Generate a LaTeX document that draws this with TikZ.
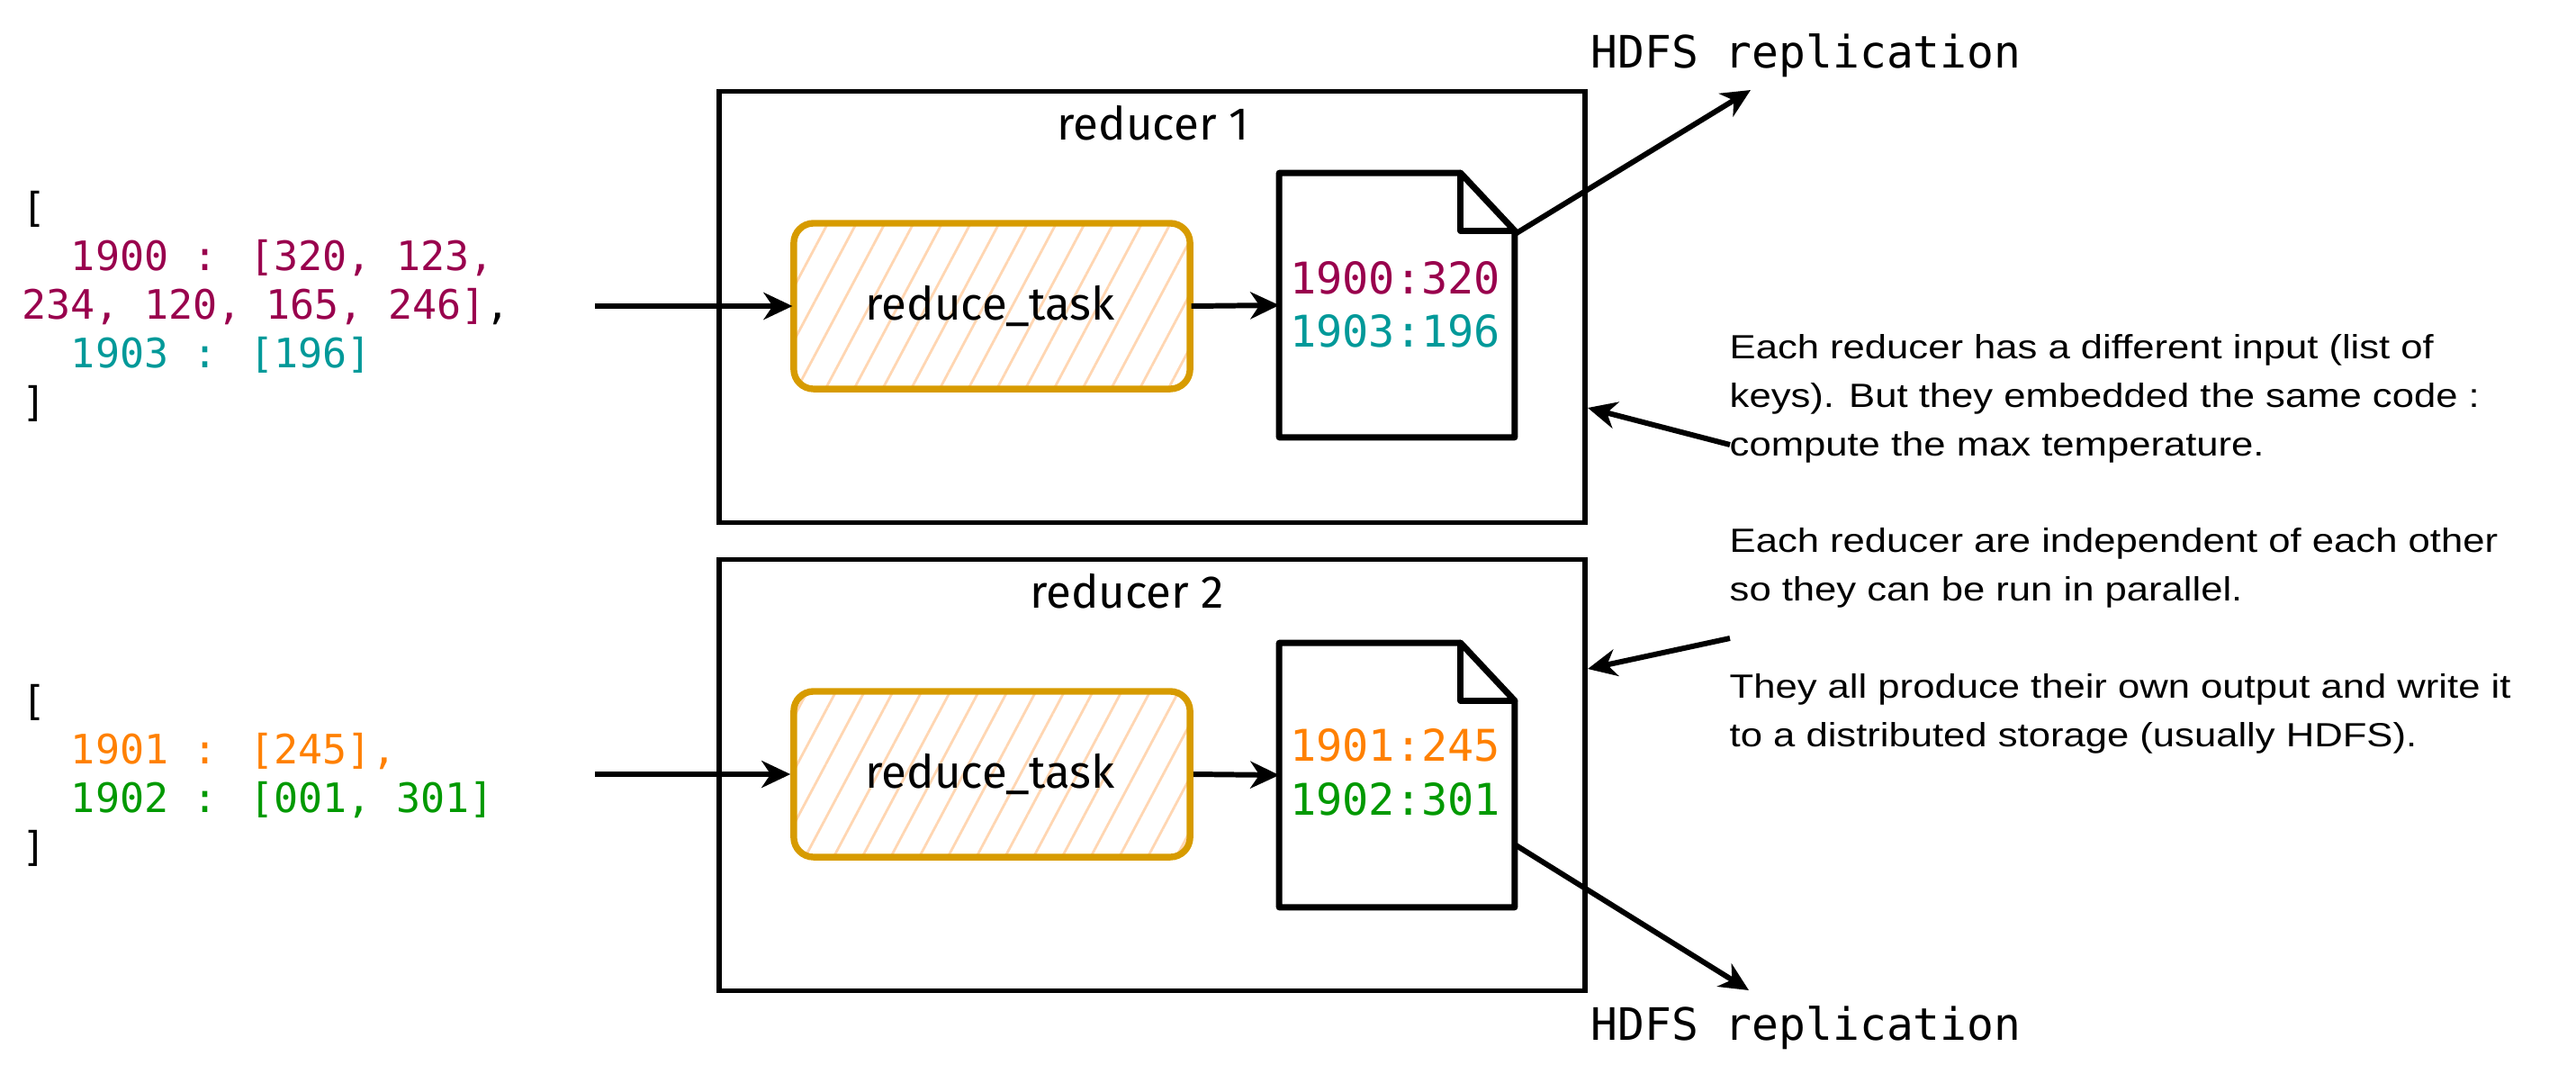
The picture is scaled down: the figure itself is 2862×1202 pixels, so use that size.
\documentclass[tikz,border=0pt]{standalone}
\usepackage{fontspec}
\usetikzlibrary{arrows.meta,patterns.meta,calc}
\newfontfamily\codefont{DejaVu Sans Mono}
\newfontfamily\notefont[FakeStretch=1.17]{Liberation Sans}
\newfontfamily\handfont{Fira Sans}
\definecolor{cmaroon}{RGB}{153,0,77}
\definecolor{cteal}{RGB}{0,153,153}
\definecolor{corange}{RGB}{255,128,0}
\definecolor{cgreen}{RGB}{0,153,0}
\definecolor{taskline}{RGB}{215,155,0}
\definecolor{taskhatch}{RGB}{255,214,178}
\begin{document}
\begin{tikzpicture}[x=0.01cm,y=-0.01cm,
  rbox/.style={draw, line width=1.6pt, minimum width=9.62cm, minimum height=4.79cm, inner sep=0},
  taskbox/.style={draw=taskline, line width=2.1pt, rounded corners=0.22cm, minimum width=4.4cm, minimum height=1.84cm, inner sep=0,
    pattern={Lines[angle=62,distance=0.28cm,line width=0.8pt]}, pattern color=taskhatch},
  hand/.style={font=\handfont\fontsize{14.5}{18}\selectfont, inner sep=0, anchor=base},
  docbox/.style={minimum width=2.6cm, minimum height=2.92cm, inner sep=0},
  docline/.style={line width=2pt, line join=round, line cap=round},
  doctext/.style={font=\codefont\fontsize{13.8}{16}\selectfont, inner sep=0, anchor=base},
  code/.style={font=\codefont\fontsize{12.8}{15.35}\selectfont, inner sep=0, align=left, anchor=north west},
  hdfs/.style={font=\codefont\fontsize{14.1}{17}\selectfont, inner sep=0, anchor=base west},
  note/.style={font=\notefont\fontsize{10.6}{15.3}\selectfont, inner sep=0, align=left, anchor=north west},
  arr/.style={line width=1.7pt, -{Stealth[length=0.32cm,width=0.3cm,inset=0.1cm]}},
]
\useasboundingbox (0,0) rectangle (2862,1202);

% reducer boxes
\node[rbox] (r1) at (1280,341) {};
\node[rbox] (r2) at (1280,861) {};
\node[hand] (r1lbl) at (1281,155) {reducer 1};
\node[hand] (r2lbl) at (1252,675) {reducer 2};

% reduce tasks
\node[taskbox] (task1) at (1102,340) {};
\node[taskbox] (task2) at (1102,860) {};
\node[hand] (task1t) at (1100,355) {reduce\_task};
\node[hand] (task2t) at (1100,875) {reduce\_task};

% documents
\node[docbox] (doc1) at (1552,339) {};
\node[docbox] (doc2) at (1552,861) {};
\foreach \d in {doc1,doc2}{
  \draw[docline, fill=white] (\d.north west) -- ($(\d.north east)+(-60,0)$) -- ($(\d.north east)+(0,64)$)
     -- (\d.south east) -- (\d.south west) -- cycle;
  \draw[docline] ($(\d.north east)+(-60,0)$) -- ($(\d.north east)+(-60,64)$) -- ($(\d.north east)+(0,64)$);
}
\node[doctext, text=cmaroon] (d1a) at (1550,326) {1900:320};
\node[doctext, text=cteal] (d1b) at (1550,385) {1903:196};
\node[doctext, text=corange] (d2a) at (1550,845) {1901:245};
\node[doctext, text=cgreen] (d2b) at (1550,905) {1902:301};

% inputs
\node[code] (in1) at (24,212) {[\\
\textcolor{cmaroon}{\hphantom{00}1900 : [320, 123,}\\
\textcolor{cmaroon}{234, 120, 165, 246]},\\
\textcolor{cteal}{\hphantom{00}1903 : [196]}\\
]};
\node[code] (in2) at (24,760) {[\\
\textcolor{corange}{\hphantom{00}1901 : [245],}\\
\textcolor{cgreen}{\hphantom{00}1902 : [001, 301]}\\
]};
\coordinate (in1s) at (661,340);
\coordinate (in2s) at (661,860);

% HDFS labels
\node[hdfs] (hdfs1) at (1767,75) {HDFS replication};
\node[hdfs] (hdfs2) at (1767,1155) {HDFS replication};
\coordinate (fold1) at ($(doc1.north east)+(0,68)$);
\coordinate (out2) at ($(doc2.east)+(0,77)$);
\coordinate (h1) at (1945,100);
\coordinate (h2) at (1943,1100);

% notes
\node[note] (notes) at (1921,371) {Each reducer has a different input (list of\\
keys). But they embedded the same code :\\
compute the max temperature.\\[15.3pt]
Each reducer are independent of each other\\
so they can be run in parallel.\\[15.3pt]
They all produce their own output and write it\\
to a distributed storage (usually HDFS).};
\coordinate (n1s) at (1922,494);
\coordinate (n1e) at (1764,453);
\coordinate (n2s) at (1922,709);
\coordinate (n2e) at (1764,743);

% connectors
\draw[arr] (in1s) -- (task1.west);
\draw[arr] (in2s) -- (task2.west);
\draw[arr] (task1.east) -- (doc1.west);
\draw[arr] (task2.east) -- (doc2.west);
\draw[arr] (fold1) -- (h1);
\draw[arr] (out2) -- (h2);
\draw[arr] (n1s) -- (n1e);
\draw[arr] (n2s) -- (n2e);
\end{tikzpicture}
\end{document}
